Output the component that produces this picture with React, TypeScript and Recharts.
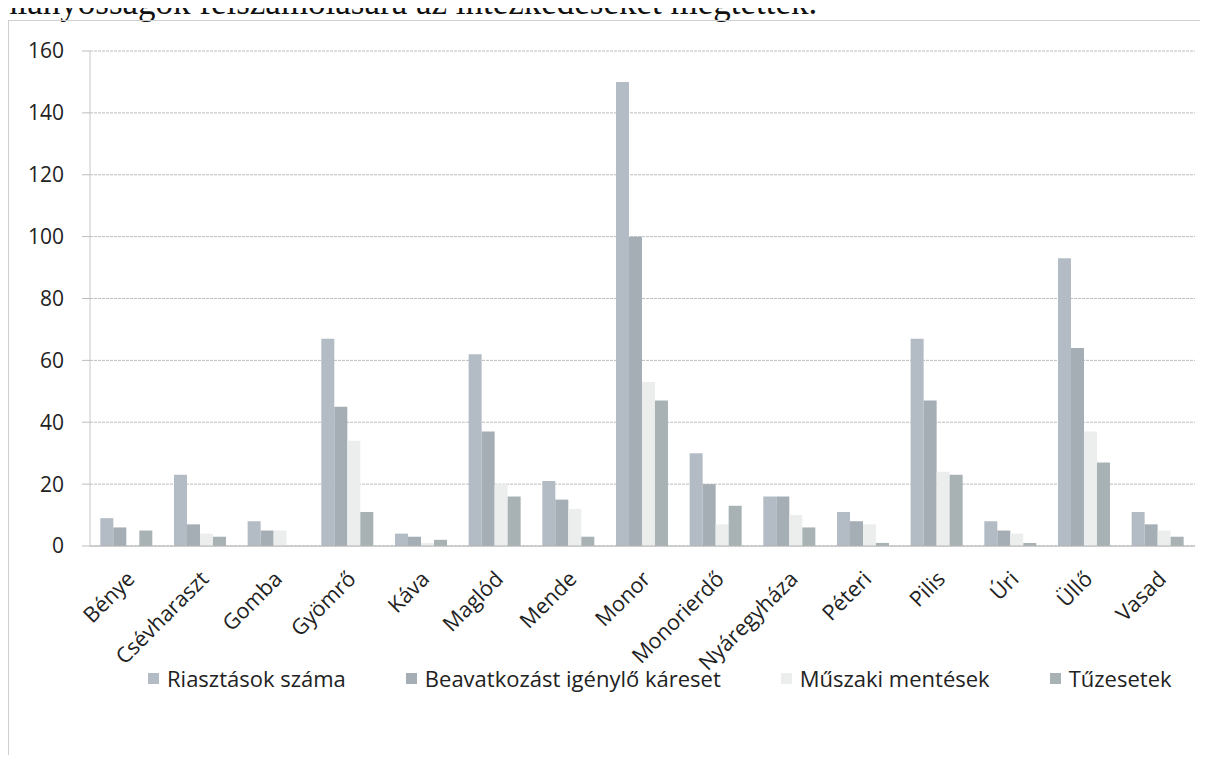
import React from 'react';
import { BarChart, Bar, XAxis, YAxis, CartesianGrid, Legend } from 'recharts';

const telepulesek = [
  'Bénye', 'Csévharaszt', 'Gomba', 'Gyömrő', 'Káva', 'Maglód', 'Mende', 'Monor',
  'Monorierdő', 'Nyáregyháza', 'Péteri', 'Pilis', 'Úri', 'Üllő', 'Vasad',
];
const riasztasok = [9, 23, 8, 67, 4, 62, 21, 150, 30, 16, 11, 67, 8, 93, 11];
const beavatkozasok = [6, 7, 5, 45, 3, 37, 15, 100, 20, 16, 8, 47, 5, 64, 7];
const muszakiMentesek = [0, 4, 5, 34, 1, 20, 12, 53, 7, 10, 7, 24, 4, 37, 5];
const tuzesetek = [5, 3, 0, 11, 2, 16, 3, 47, 13, 6, 1, 23, 1, 27, 3];
const yTicks = [0, 20, 40, 60, 80, 100, 120, 140, 160];

const series = [
  { key: 'riasztas', name: 'Riasztások száma', color: '#b3bcc4' },
  { key: 'beavatkozas', name: 'Beavatkozást igénylő káreset', color: '#a5aeb5' },
  { key: 'muszaki', name: 'Műszaki mentések', color: '#eceeee' },
  { key: 'tuz', name: 'Tűzesetek', color: '#a8b2b4' },
];

const chartData = telepulesek.map((name, i) => ({
  name,
  riasztas: riasztasok[i],
  beavatkozas: beavatkozasok[i],
  muszaki: muszakiMentesek[i],
  tuz: tuzesetek[i],
}));

const FONT = '"Open Sans", Lato, sans-serif';

function CategoryTick({ x, y, payload }: any) {
  return (
    <g transform={`translate(${x + 4}, ${y + 21}) rotate(-45)`}>
      <text x={0} y={0} dy="0.35em" textAnchor="end" fill="#222" fontSize={21.5} fontFamily={FONT}>
        {payload.value}
      </text>
    </g>
  );
}

function LegendBox() {
  return (
    <div style={{ height: 30, display: 'flex', alignItems: 'center', paddingLeft: 140, fontFamily: FONT, fontSize: 22, color: '#222', whiteSpace: 'nowrap' }}>
      {series.map((s) => (
        <div key={s.key} style={{ display: 'flex', alignItems: 'center', marginRight: 60 }}>
          <span style={{ width: 11, height: 11, background: s.color, marginRight: 8, display: 'inline-block' }} />
          <span>{s.name}</span>
        </div>
      ))}
    </div>
  );
}

export default function App() {
  return (
    <div style={{ position: 'relative', width: 1209, height: 763, margin: -8, overflow: 'hidden', background: '#fff' }}>
      <div
        style={{
          position: 'absolute', left: 0, top: -15, whiteSpace: 'nowrap',
          fontFamily: '"Liberation Serif", "Times New Roman", serif', fontSize: 35, lineHeight: '35px', color: '#111',
        }}
      >
        hiányosságok felszámolására az intézkedéseket megtették.
      </div>
      <div style={{ position: 'absolute', left: 8, top: 20, width: 1192, height: 760, border: '1px solid #cfcfcf', borderRight: 'none', boxSizing: 'border-box' }} />
      <div style={{ position: 'absolute', left: 8, top: 20 }}>
        <BarChart
          width={1192}
          height={751}
          data={chartData}
          margin={{ top: 31, right: 5, left: 0, bottom: 78 }}
          barCategoryGap="14%"
          barGap={0}
        >
          <CartesianGrid horizontal vertical={false} stroke="#bdbdbd" strokeDasharray="3 1" />
          <XAxis
            dataKey="name"
            interval={0}
            height={117}
            tick={<CategoryTick />}
            tickLine={false}
            axisLine={{ stroke: '#b4b4b4' }}
          />
          <YAxis
            width={82}
            domain={[0, 160]}
            ticks={yTicks}
            interval={0}
            tickSize={8}
            tickLine={{ stroke: '#bdbdbd' }}
            axisLine={{ stroke: '#c8c8c8' }}
            tick={{ fill: '#222', fontSize: 21, fontFamily: FONT }}
            tickMargin={18}
          />
          <Legend verticalAlign="bottom" content={<LegendBox />} />
          {series.map((s) => (
            <Bar key={s.key} dataKey={s.key} name={s.name} fill={s.color} isAnimationActive={false} />
          ))}
        </BarChart>
      </div>
    </div>
  );
}
